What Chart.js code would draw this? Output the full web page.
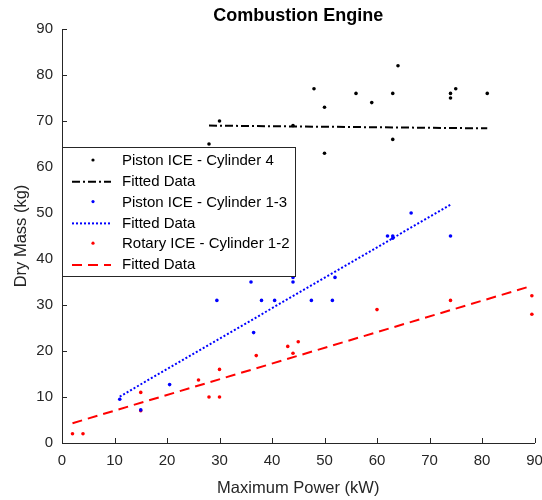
<!DOCTYPE html>
<html>
<head>
<meta charset="utf-8">
<script src="https://cdn.jsdelivr.net/npm/chart.js@4"></script>
<style>
  html,body{margin:0;padding:0;background:#fff;}
  #wrap{width:542px;height:500px;}
</style>
</head>
<body>
<div id="wrap"><canvas id="chart" width="542" height="500"></canvas></div>
<script>
// data
const cyl4Power = [28, 30, 44, 48, 50, 50, 56, 59, 63, 63, 64, 74, 74, 75, 81];
const cyl4Mass  = [65, 70, 69, 77, 73, 63, 76, 74, 76, 66, 82, 76, 75, 77, 76];
const cyl4FitX  = [28, 81];
const cyl4FitY  = [69.0, 68.4];

const cyl13Power = [11, 15, 20.5, 29.5, 36, 36.5, 38, 40.5, 44, 44, 47.5, 51.5, 52, 62, 63, 63, 66.5, 74];
const cyl13Mass  = [9.5, 7.2, 12.7, 31, 35, 24, 31, 31, 35, 36, 31, 31, 36, 45, 45, 44.5, 50, 45];
const cyl13FitX  = [11, 74];
const cyl13FitY  = [10.1, 51.8];

const rotPower = [2, 4, 15, 15, 26, 28, 30, 30, 37, 43, 44, 45, 60, 74, 89.5, 89.5];
const rotMass  = [2, 2, 11, 7, 13.7, 10, 16, 10, 19, 21, 19.5, 22, 29, 31, 32, 28];
const rotFitX  = [2, 89];
const rotFitY  = [4.3, 34.0];

const xTicks = [0, 10, 20, 30, 40, 50, 60, 70, 80, 90];
const yTicks = [0, 10, 20, 30, 40, 50, 60, 70, 80, 90];

const chartTitle = "Combustion Engine";

const pts = (xs, ys) => xs.map((x, i) => ({x: x, y: ys[i]}));
const axisColor = "#262626";
const fontFam = "'Liberation Sans', Arial, Helvetica, sans-serif";

// inner tick marks + title centred over the axes
const innerTicks = {
  id: "innerTicks",
  afterDatasetsDraw(chart){
    const ctx = chart.ctx, xs = chart.scales.x, ys = chart.scales.y;
    const a = chart.chartArea;
    ctx.save();
    ctx.strokeStyle = axisColor;
    ctx.lineWidth = 1;
    ctx.beginPath();
    xTicks.forEach(v => {
      const px = Math.round(xs.getPixelForValue(v)) + 0.5;
      ctx.moveTo(px, a.bottom); ctx.lineTo(px, a.bottom - 5);
    });
    yTicks.forEach(v => {
      const py = Math.round(ys.getPixelForValue(v)) + 0.5;
      ctx.moveTo(a.left, py); ctx.lineTo(a.left + 5, py);
    });
    ctx.stroke();
    ctx.fillStyle = "#000";
    ctx.font = "bold 18px " + fontFam;
    ctx.textAlign = "center";
    ctx.textBaseline = "middle";
    ctx.fillText(chartTitle, (a.left + a.right) / 2, 16);
    ctx.restore();
  }
};

// boxed legend sitting inside the plot, top left
const boxLegend = {
  id: "boxLegend",
  afterDraw(chart){
    const ctx = chart.ctx, a = chart.chartArea;
    const x0 = a.left, y0 = 147, w = 233, h = 129, row = 20.8;
    ctx.save();
    ctx.fillStyle = "#fff";
    ctx.fillRect(x0, y0, w, h);
    ctx.strokeStyle = axisColor;
    ctx.lineWidth = 1;
    ctx.strokeRect(Math.round(x0) + 0.5, y0 + 0.5, w, h);
    ctx.font = "15px " + fontFam;
    ctx.textBaseline = "middle";
    chart.data.datasets.forEach((ds, i) => {
      const cy = y0 + 14 + i * row;
      if (ds.showLine) {
        ctx.strokeStyle = ds.borderColor;
        ctx.lineWidth = ds.borderWidth;
        ctx.setLineDash(ds.borderDash);
        ctx.beginPath();
        ctx.moveTo(x0 + 10, cy); ctx.lineTo(x0 + 49, cy);
        ctx.stroke();
        ctx.setLineDash([]);
      } else {
        ctx.fillStyle = ds.backgroundColor;
        ctx.beginPath();
        ctx.arc(x0 + 31, cy - 1, 1.6, 0, Math.PI * 2);
        ctx.fill();
      }
      ctx.fillStyle = "#000";
      ctx.fillText(ds.label, x0 + 60, cy);
    });
    ctx.restore();
  }
};

const dotSet = (label, xs, ys, color) => ({
  label: label, data: pts(xs, ys), showLine: false,
  backgroundColor: color, borderColor: color,
  pointRadius: 1.8, pointBorderWidth: 0, pointHoverRadius: 1.8
});
const fitSet = (label, xs, ys, color, dash, width) => ({
  label: label, data: pts(xs, ys), showLine: true,
  borderColor: color, backgroundColor: color, borderWidth: width,
  borderDash: dash, pointRadius: 0, pointHoverRadius: 0, fill: false, tension: 0
});

new Chart(document.getElementById("chart"), {
  type: "scatter",
  data: {
    datasets: [
      dotSet("Piston ICE - Cylinder 4", cyl4Power, cyl4Mass, "#000000"),
      fitSet("Fitted Data", cyl4FitX, cyl4FitY, "#000000", [8, 3, 2, 3], 2),
      dotSet("Piston ICE - Cylinder 1-3", cyl13Power, cyl13Mass, "#0000ff"),
      fitSet("Fitted Data", cyl13FitX, cyl13FitY, "#0000ff", [2, 2], 2),
      dotSet("Rotary ICE - Cylinder 1-2", rotPower, rotMass, "#ff0000"),
      fitSet("Fitted Data", rotFitX, rotFitY, "#ff0000", [10, 6], 2)
    ]
  },
  options: {
    responsive: false,
    animation: false,
    layout: {padding: {left: 0, right: 7.5, top: 29, bottom: 0}},
    plugins: {
      legend: {display: false},
      tooltip: {enabled: false},
      title: {display: false}
    },
    scales: {
      x: {
        type: "linear", min: 0, max: 90,
        afterBuildTicks: s => { s.ticks = xTicks.map(v => ({value: v})); },
        afterFit: s => { s.height = 57; s.paddingLeft = 0; s.paddingRight = 0; },
        grid: {display: false, drawTicks: false},
        border: {display: true, color: axisColor, width: 1},
        ticks: {color: axisColor, padding: 9, maxRotation: 0, font: {family: fontFam, size: 15}},
        title: {display: true, text: "Maximum Power (kW)", color: axisColor,
                font: {family: fontFam, size: 16.5}, padding: {top: 0, bottom: 2}}
      },
      y: {
        type: "linear", min: 0, max: 90,
        afterBuildTicks: s => { s.ticks = yTicks.map(v => ({value: v})); },
        afterFit: s => { s.width = 62; s.paddingTop = 0; s.paddingBottom = 0; },
        grid: {display: false, drawTicks: false},
        border: {display: true, color: axisColor, width: 1},
        ticks: {color: axisColor, padding: 9, font: {family: fontFam, size: 15}},
        title: {display: true, text: "Dry Mass (kg)", color: axisColor,
                font: {family: fontFam, size: 16.5}, padding: {top: 12, bottom: 0}}
      }
    }
  },
  plugins: [innerTicks, boxLegend]
});
</script>
</body>
</html>
